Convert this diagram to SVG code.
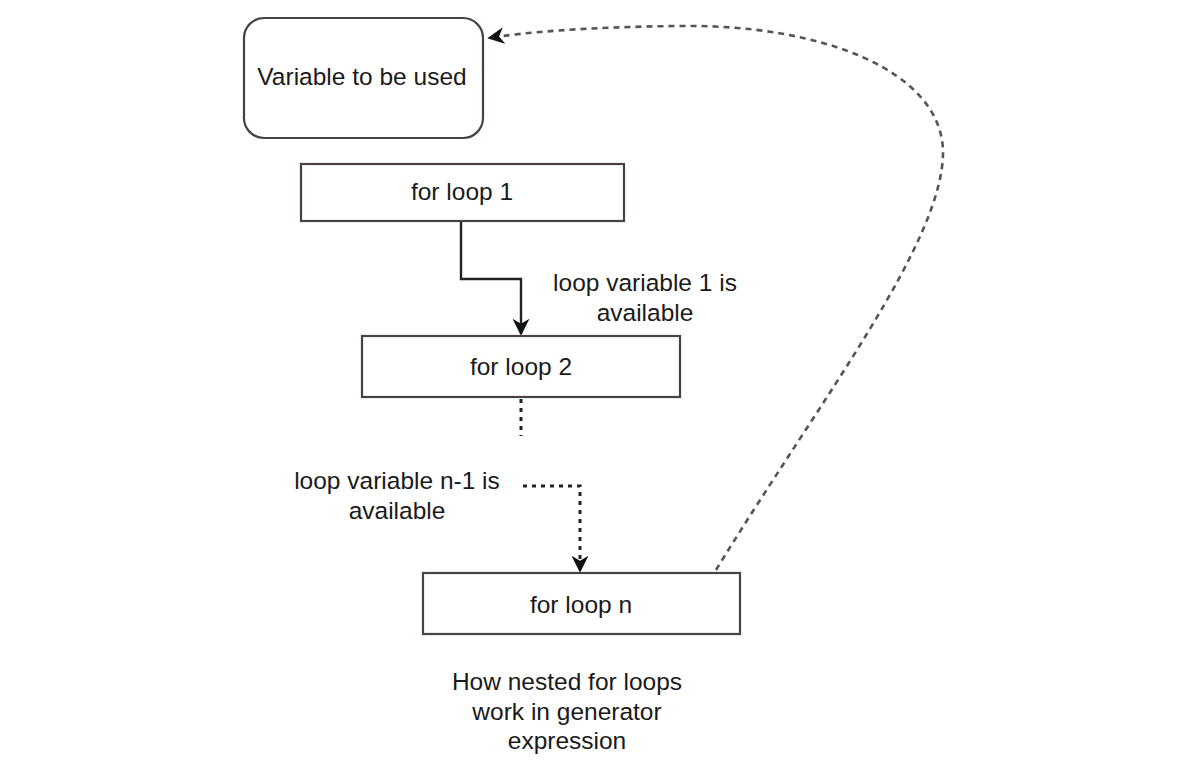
<svg xmlns="http://www.w3.org/2000/svg" width="1192" height="773" viewBox="0 0 1192 773">
<style>
.box{fill:#fff;stroke:#4a4048;stroke-width:2.2}
.t{font-family:"Liberation Sans",Arial,sans-serif;font-size:24.5px;fill:#1a1a1a;text-anchor:middle}
.solid{fill:none;stroke:#222;stroke-width:2.4}
.dot{fill:none;stroke:#222;stroke-width:3;stroke-dasharray:4 5}
.curve{fill:none;stroke:#555;stroke-width:2.6;stroke-dasharray:6 5}
</style>
<defs>
<marker id="ah2" viewBox="0 0 10 10" refX="9" refY="5" markerWidth="17" markerHeight="17" markerUnits="userSpaceOnUse" orient="auto">
<path d="M0,0 L10,5 L0,10 L3,5 Z" fill="#111"/>
</marker>
</defs>
<rect width="1192" height="773" fill="#fff"/>
<g id="connectors">
<path class="solid" d="M461 221 V279 H521 V334" marker-end="url(#ah2)"/>
<path class="dot" d="M521 399 V436"/>
<path class="dot" d="M523 486 H580 V571" marker-end="url(#ah2)"/>
<path class="curve" d="M716 570 C820 400 945 240 943 150 C940 70 820 24 680 26 C580 27 520 33 489 38" marker-end="url(#ah2)"/>
</g>
<g id="node-variable">
<rect class="box" x="244" y="18" width="239" height="120" rx="20"/>
<text class="t" x="362" y="85">Variable to be used</text>
</g>
<g id="node-loop1">
<rect class="box" x="301" y="164" width="323" height="57"/>
<text class="t" x="462" y="200">for loop 1</text>
</g>
<g id="label-1">
<text class="t" x="645" y="291">loop variable 1 is</text>
<text class="t" x="645" y="321">available</text>
</g>
<g id="node-loop2">
<rect class="box" x="362" y="336" width="318" height="61"/>
<text class="t" x="521" y="375">for loop 2</text>
</g>
<g id="label-n1">
<text class="t" x="397" y="489">loop variable n-1 is</text>
<text class="t" x="397" y="519">available</text>
</g>
<g id="node-loopn">
<rect class="box" x="423" y="573" width="317" height="61"/>
<text class="t" x="581" y="613">for loop n</text>
</g>
<g id="caption">
<text class="t" x="567" y="690">How nested for loops</text>
<text class="t" x="567" y="720">work in generator</text>
<text class="t" x="567" y="749">expression</text>
</g>
</svg>
